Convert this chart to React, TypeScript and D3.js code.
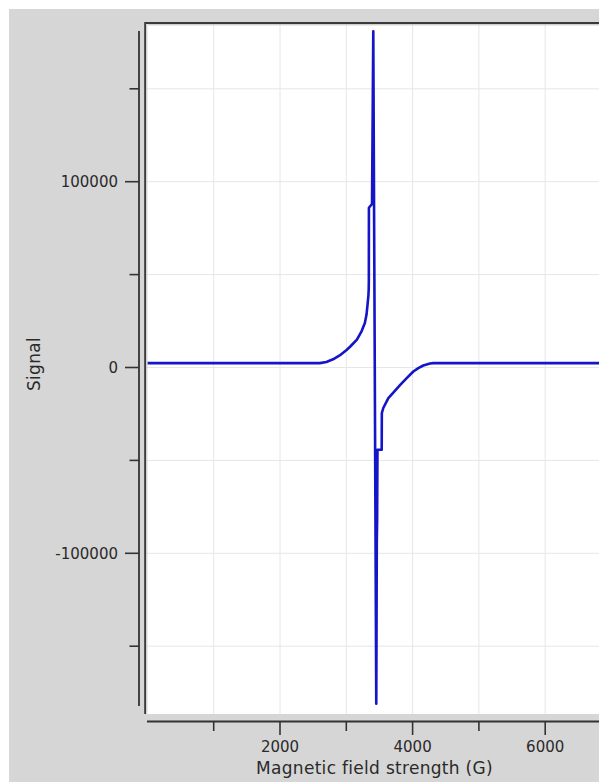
import React from "react";
import * as d3 from "d3";

// Data: magnetic field (G) vs signal
const fieldG = [
  0, 2600, 2700, 2800, 2900, 3000, 3060, 3160, 3230, 3280, 3305, 3320, 3333, 3338, 3340,
  3341, 3388, 3407, 3452, 3460, 3465, 3470, 3534, 3536, 3558, 3634, 3709, 3810, 3911,
  4011, 4086, 4161, 4262, 4312, 7000,
];
const signal = [
  2350, 2350, 3000, 4400, 6500, 9300, 11300, 15000, 19500, 24000, 28500, 33700, 38500, 42000, 47000,
  86000, 88000, 181000, -181000, -94000, -82000, -44250, -44250, -24500, -21800, -16500, -13500,
  -9500, -5700, -2150, -320, 1075, 2150, 2350, 2350,
];
const xMajorTicks = [2000, 4000, 6000];
const xMinorTicks = [1000, 3000, 5000];
const yMajorTicks = [-100000, 0, 100000];
const yMinorTicks = [-150000, -50000, 50000, 150000];
const xGridValues = [1000, 2000, 3000, 4000, 5000, 6000];
const yGridValues = [-150000, -100000, -50000, 0, 50000, 100000, 150000];
const xTitle = "Magnetic field strength (G)";
const yTitle = "Signal";

export default function App() {
  const W = 599;
  const H = 782;
  const plot = { left: 145, top: 22, right: 599, bottom: 714 };

  const x = d3.scaleLinear().domain([0, 7000]).range([147.4, 147.4 + 7 * 66.3]);
  const y = d3.scaleLinear().domain([-200000, 200000]).range([367.5 + 371.6, 367.5 - 371.6]);

  const pts: [number, number][] = fieldG.map((g, i) => [g, signal[i]]);
  const line = d3
    .line<[number, number]>()
    .x((d) => x(d[0]))
    .y((d) => y(d[1]));

  const font = "'DejaVu Sans', Verdana, sans-serif";
  const textColor = "#2a2a2a";
  const axisColor = "#333";

  return (
    <div style={{ position: "fixed", left: 0, top: 0, width: W, height: H, background: "#fff" }}>
      <svg width={W} height={H} style={{ display: "block" }}>
        <defs>
          <clipPath id="plotClip">
            <rect x={plot.left} y={plot.top} width={plot.right - plot.left} height={plot.bottom - plot.top} />
          </clipPath>
        </defs>
        <rect x={0} y={0} width={W} height={H} fill="#ffffff" />
        <rect x={9} y={9} width={W - 9} height={H - 9} fill="#d6d6d6" />
        <rect
          x={plot.left}
          y={plot.top}
          width={plot.right - plot.left}
          height={plot.bottom - plot.top}
          fill="#ffffff"
        />
        {/* grid */}
        <g clipPath="url(#plotClip)">
          {xGridValues.map((v) => (
            <line key={"gx" + v} x1={x(v)} x2={x(v)} y1={plot.top} y2={plot.bottom} stroke="#e6e6e6" strokeWidth={1} />
          ))}
          {yGridValues.map((v) => (
            <line key={"gy" + v} x1={plot.left} x2={plot.right} y1={y(v)} y2={y(v)} stroke="#e6e6e6" strokeWidth={1} />
          ))}
          <path d={line(pts) || ""} fill="none" stroke="#1414c8" strokeWidth={2.6} strokeLinejoin="round" />
        </g>
        {/* plot frame (top and left) */}
        <line x1={plot.left} x2={plot.right} y1={23} y2={23} stroke="#3a3a3a" strokeWidth={2} />
        <line x1={145.2} x2={145.2} y1={plot.top} y2={plot.bottom} stroke="#3a3a3a" strokeWidth={2} />
        <line x1={147.5} x2={plot.right} y1={24.8} y2={24.8} stroke="#bdbdbd" strokeWidth={1} />
        <line x1={146.9} x2={146.9} y1={25} y2={plot.bottom} stroke="#cfcfcf" strokeWidth={1} />

        {/* y axis */}
        <line x1={139} x2={139} y1={31} y2={706} stroke={axisColor} strokeWidth={1.8} />
        {yMajorTicks.map((v) => (
          <g key={"ym" + v}>
            <line x1={125} x2={139} y1={y(v)} y2={y(v)} stroke={axisColor} strokeWidth={1.6} />
            <text
              x={118}
              y={y(v)}
              dy="0.36em"
              textAnchor="end"
              fontFamily={font}
              fontSize={15}
              fill={textColor}
            >
              {d3.format("d")(v).replace("−", "-")}
            </text>
          </g>
        ))}
        {yMinorTicks.map((v) => (
          <line key={"yn" + v} x1={129.5} x2={139} y1={y(v)} y2={y(v)} stroke={axisColor} strokeWidth={1.6} />
        ))}
        <text
          transform={`translate(39.5, 364) rotate(-90)`}
          textAnchor="middle"
          fontFamily={font}
          fontSize={17}
          letterSpacing={0.3}
          fill={textColor}
        >
          {yTitle}
        </text>

        {/* x axis */}
        <line x1={147} x2={W} y1={721.5} y2={721.5} stroke={axisColor} strokeWidth={1.8} />
        {xMajorTicks.map((v) => (
          <g key={"xm" + v}>
            <line x1={x(v)} x2={x(v)} y1={721.5} y2={735} stroke={axisColor} strokeWidth={1.6} />
            <text x={x(v)} y={752} textAnchor="middle" fontFamily={font} fontSize={15} fill={textColor}>
              {d3.format("d")(v)}
            </text>
          </g>
        ))}
        {xMinorTicks.map((v) => (
          <line key={"xn" + v} x1={x(v)} x2={x(v)} y1={721.5} y2={731} stroke={axisColor} strokeWidth={1.6} />
        ))}
        <text
          x={374.5}
          y={774}
          textAnchor="middle"
          fontFamily={font}
          fontSize={17}
          letterSpacing={0.3}
          fill={textColor}
        >
          {xTitle}
        </text>
      </svg>
    </div>
  );
}
